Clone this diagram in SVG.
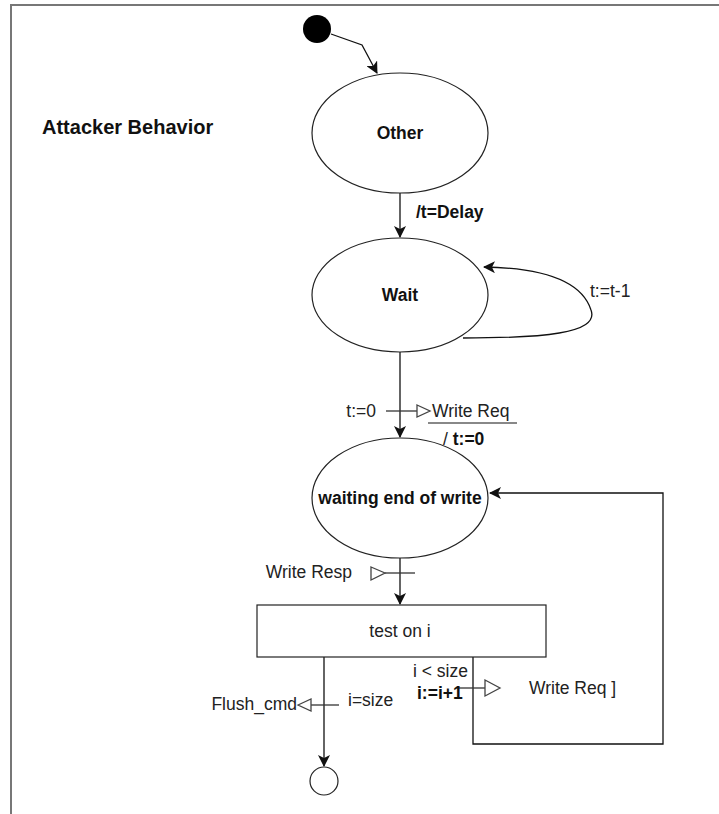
<svg xmlns="http://www.w3.org/2000/svg" width="719" height="814" viewBox="0 0 719 814">
<style>
text{font-family:"Liberation Sans",Arial,sans-serif;font-size:17.5px;fill:#222}
.b{font-weight:bold;fill:#111}
.st{fill:#fff;stroke:#222;stroke-width:1.2}
.ln{fill:none;stroke:#111;stroke-width:1.3}
.sig{fill:#fff;stroke:#444;stroke-width:1.3}
.bar{stroke:#333;stroke-width:1.3}
</style>
<defs>
<marker id="arr" viewBox="0 0 12 12" refX="11" refY="6" markerWidth="12" markerHeight="12" markerUnits="userSpaceOnUse" orient="auto">
<path d="M0,0 L12,6 L0,12 L3,6 z" fill="#111"/>
</marker>
</defs>
<rect width="719" height="814" fill="#fff"/>
<g id="frame" fill="none" stroke="#777" stroke-width="2">
<path d="M11,814 V5 H719"/>
</g>
<text id="title" class="b" x="42" y="134" style="font-size:20px">Attacker Behavior</text>
<g id="connectors">
<path class="ln" d="M331,34 L362,45 L377,73" marker-end="url(#arr)"/>
<path class="ln" d="M400,193 V237" marker-end="url(#arr)"/>
<path class="ln" d="M463,338 C540,338 600,334 591,310 C582,282 545,268 484,267" marker-end="url(#arr)"/>
<path class="ln" d="M400,352 V437" marker-end="url(#arr)"/>
<path class="ln" d="M400,558 V604" marker-end="url(#arr)"/>
<path class="ln" d="M324,657 V766" marker-end="url(#arr)"/>
<path class="ln" d="M473,657 V744 H663 V493 H490" marker-end="url(#arr)"/>
<line class="bar" x1="386" y1="411" x2="417" y2="411"/>
<polygon class="sig" points="417,405 430,411 417,417"/>
<line x1="428" y1="423" x2="517" y2="423" stroke="#888" stroke-width="2"/>
<line class="bar" x1="385" y1="573" x2="415" y2="573"/>
<polygon class="sig" points="371,567 385,573 371,580"/>
<line class="bar" x1="311" y1="705" x2="339" y2="705"/>
<polygon class="sig" points="298,705 311,699 311,711"/>
<line class="bar" x1="458" y1="688" x2="485" y2="688"/>
<polygon class="sig" points="485,680 500,688 485,696"/>
<text class="b" x="416" y="218">/t=Delay</text>
<text x="590" y="297">t:=t-1</text>
<text x="376" y="417" text-anchor="end">t:=0</text>
<text x="432" y="417">Write Req</text>
<text x="443" y="445">/ <tspan class="b">t:=0</tspan></text>
<text x="352" y="578" text-anchor="end">Write Resp</text>
<text x="297" y="710" text-anchor="end">Flush_cmd</text>
<text x="348" y="706">i=size</text>
<text x="413" y="677">i &lt; size</text>
<text class="b" x="417" y="699">i:=i+1</text>
<text x="529" y="694">Write Req ]</text>
</g>
<g id="initial"><circle cx="317" cy="29" r="14" fill="#000"/></g>
<g id="other"><ellipse class="st" cx="400" cy="133" rx="88" ry="60"/><text class="b" x="400" y="139" text-anchor="middle">Other</text></g>
<g id="wait"><ellipse class="st" cx="400" cy="295" rx="88" ry="57"/><text class="b" x="400" y="301" text-anchor="middle">Wait</text></g>
<g id="waiting"><ellipse class="st" cx="400" cy="498" rx="88" ry="60"/><text class="b" x="400" y="504" text-anchor="middle">waiting end of write</text></g>
<g id="test"><rect class="st" x="257" y="605" width="289" height="52"/><text x="400" y="637" text-anchor="middle">test on i</text></g>
<g id="final"><circle class="st" cx="324" cy="781" r="14"/></g>
</svg>
